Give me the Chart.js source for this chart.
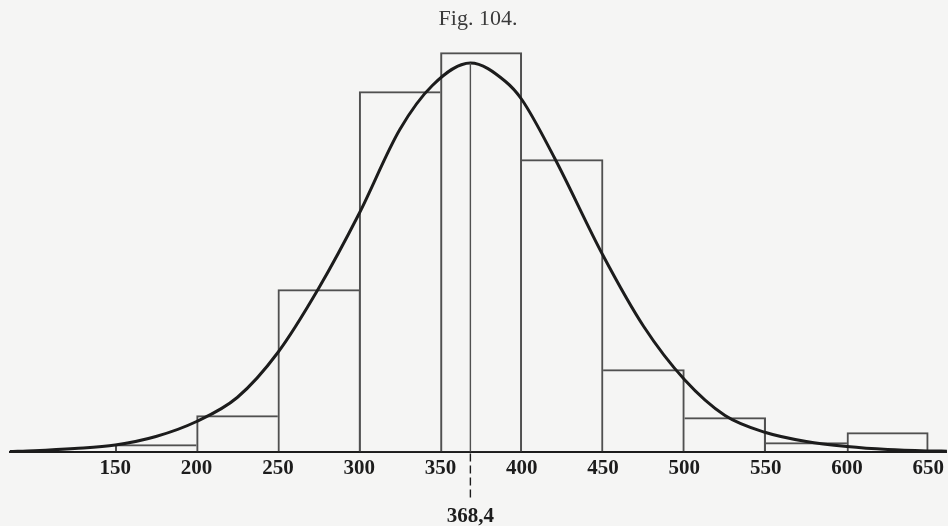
<!DOCTYPE html>
<html>
<head>
<meta charset="utf-8">
<script src="https://cdn.jsdelivr.net/npm/chart.js@4.4.1/dist/chart.umd.min.js"></script>
<style>
  html, body { margin: 0; padding: 0; background: #f5f5f4; }
  #wrap { position: relative; width: 948px; height: 526px; }
</style>
</head>
<body>
<div id="wrap"><canvas id="chart" width="948" height="526"></canvas></div>
<script>
// --- Data ---
const TITLE = 'Fig. 104.';
const MEAN = 368.4;
const MEAN_LABEL = '368,4';
const tickValues = [150, 200, 250, 300, 350, 400, 450, 500, 550, 600, 650];

// histogram classes (centre of each 50-wide class) and heights
const binCentres = [175, 225, 275, 325, 375, 425, 475, 525, 575, 625];
const binHeights = [7, 36, 162, 360, 399, 292, 82, 34, 9, 19];

// fitted curve
const curveX = [85, 100, 125, 150, 175, 200, 225, 250, 275, 300, 325, 345, 368.4, 390, 400, 420, 450, 475, 500, 525, 550, 575, 600, 625, 650, 662];
const curveY = [0, 0.8, 3, 6.5, 15, 30, 54, 99, 163, 238, 322, 366, 388.5, 370, 352, 294, 196, 125, 72, 36, 19, 10, 5, 2, 0.6, 0.3];

const INK = '#1c1c1c';
const BOX = '#505050';
const FONT = '"Liberation Serif", "DejaVu Serif", serif';
const BW = 1.4;

// draw each shared edge only once, by the taller of the two bars
function edgeWidths(ctx) {
  const i = ctx.dataIndex, h = binHeights, last = h.length - 1;
  if (i === undefined) return BW;
  return {
    top: BW,
    bottom: 0,
    left: (i === 0 || h[i - 1] <= h[i]) ? BW : 0,
    right: (i === last || h[i + 1] < h[i]) ? BW : 0
  };
}

const extras = {
  id: 'extras',
  afterDatasetsDraw(chart) {
    const { ctx, scales: { x, y } } = chart;
    const mx = x.getPixelForValue(MEAN);
    const base = y.getPixelForValue(0);
    const peak = y.getPixelForValue(Math.max(...curveY));
    ctx.save();
    // ordinate at the mean
    ctx.strokeStyle = BOX;
    ctx.lineWidth = BW;
    ctx.beginPath();
    ctx.moveTo(mx, base);
    ctx.lineTo(mx, peak);
    ctx.stroke();
    // dashed mark below the axis
    ctx.strokeStyle = INK;
    ctx.setLineDash([8, 4]);
    ctx.beginPath();
    ctx.moveTo(mx, base + 2);
    ctx.lineTo(mx, base + 50);
    ctx.stroke();
    ctx.setLineDash([]);
    ctx.fillStyle = INK;
    ctx.textAlign = 'center';
    ctx.textBaseline = 'middle';
    ctx.font = 'bold 21px ' + FONT;
    ctx.fillText(MEAN_LABEL, mx, base + 65);
    ctx.fillStyle = '#3a3a3a';
    ctx.font = '22px ' + FONT;
    ctx.fillText(TITLE, 478, 19);
    ctx.restore();
  }
};

new Chart(document.getElementById('chart'), {
  data: {
    datasets: [
      {
        type: 'line',
        order: 0,
        data: curveX.map((v, i) => ({ x: v, y: curveY[i] })),
        borderColor: INK,
        borderWidth: 3,
        pointRadius: 0,
        cubicInterpolationMode: 'monotone',
        fill: false
      },
      {
        type: 'bar',
        order: 1,
        data: binCentres.map((v, i) => ({ x: v, y: binHeights[i] })),
        backgroundColor: 'transparent',
        borderColor: BOX,
        borderWidth: edgeWidths,
        borderSkipped: false,
        barPercentage: 1,
        categoryPercentage: 1
      }
    ]
  },
  options: {
    responsive: false,
    animation: false,
    events: [],
    layout: { padding: { left: 9.6, right: 0, top: 31.5, bottom: 41.3 } },
    plugins: { legend: { display: false }, tooltip: { enabled: false } },
    scales: {
      x: {
        type: 'linear',
        offset: false,
        min: 85,
        max: 661.5,
        afterBuildTicks: s => { s.ticks = tickValues.map(v => ({ value: v })); },
        grid: { display: false, drawTicks: false, offset: false },
        border: { display: true, color: INK, width: 2 },
        ticks: { padding: 4, color: INK, font: { family: FONT, size: 21, weight: 'bold' } }
      },
      y: { display: false, min: 0, max: 420 }
    }
  },
  plugins: [extras]
});
</script>
</body>
</html>
